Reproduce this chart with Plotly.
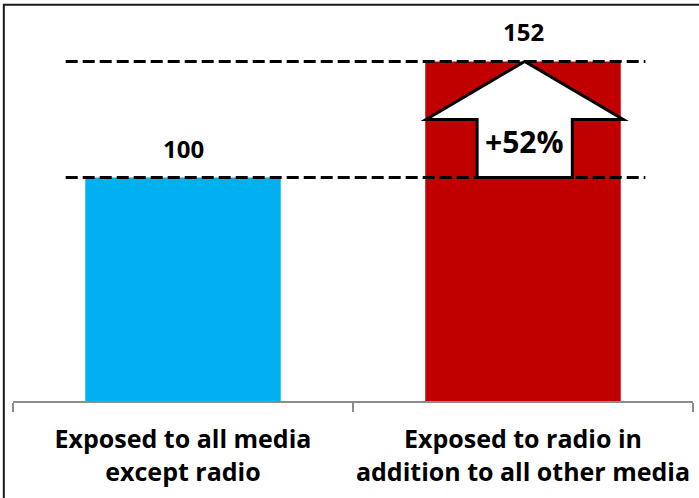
import plotly.graph_objects as go

categories = ["Exposed to all media<br>except radio", "Exposed to radio in<br>addition to all other media"]
values = [100, 152]
bar_colors = ["#00B0F0", "#C00000"]
value_labels = ["100", "152"]
uplift_label = "+52%"

FONT = "Open Sans"

fig = go.Figure()
fig.add_trace(go.Bar(
    x=categories, y=values,
    marker=dict(color=bar_colors, line=dict(width=0)),
    width=0.575, showlegend=False, hoverinfo="skip",
))

# helper: category index -> paper x
def cx(i):
    return (i + 0.5) / len(categories)

shapes = []
# dashed reference lines at both values
for v in values:
    shapes.append(dict(type="line", xref="paper", yref="y",
                       x0=cx(-0.345), x1=cx(1.36), y0=v, y1=v,
                       line=dict(color="black", width=3, dash="12px,5px"),
                       layer="above"))

# up arrow inside the second bar from values[0] to values[1]
lo, hi = values
mid = (lo + hi) / 2
c = 1.005
hw, sw = 0.29, 0.14
pts = [(c, hi), (c + hw, mid), (c + sw, mid), (c + sw, lo), (c - sw, lo), (c - sw, mid), (c - hw, mid)]
path = "M " + " L ".join(f"{cx(px)},{py}" for px, py in pts) + " Z"
shapes.append(dict(type="path", xref="paper", yref="y", path=path,
                   fillcolor="white", line=dict(color="black", width=3), layer="above"))

# outer border
shapes.append(dict(type="rect", xref="paper", yref="paper",
                   x0=-0.0135, x1=1.2, y0=-0.5, y1=1.0135,
                   line=dict(color="#1a1a1a", width=2), fillcolor="rgba(0,0,0,0)"))

annotations = []
for i, (cat, v, lab) in enumerate(zip(categories, values, value_labels)):
    annotations.append(dict(x=cat, y=v, text=f"<b>{lab}</b>", showarrow=False,
                            xanchor="center", yanchor="bottom", yshift=11,
                            font=dict(family=FONT, size=24, color="black")))
annotations.append(dict(x=cx(1.005), xref="paper", y=116, yref="y",
                        xanchor="center", yanchor="middle",
                        text=f"<b>{uplift_label}</b>", showarrow=False,
                        font=dict(family=FONT, size=30, color="black")))

fig.update_layout(
    width=699, height=498,
    margin=dict(l=13, r=6, t=10, b=97, autoexpand=False),
    paper_bgcolor="white", plot_bgcolor="white",
    bargap=0.425,
    shapes=shapes, annotations=annotations,
    xaxis=dict(
        showline=True, linecolor="#8c8c8c", linewidth=2,
        ticks="outside", ticklen=9, tickwidth=2, tickcolor="#8c8c8c",
        tickson="boundaries", showgrid=False, tickangle=0, automargin=False,
        ticklabelstandoff=15,
        tickfont=dict(family=FONT, size=25, color="black"),
        tickprefix="<b>", ticksuffix="</b>",
        range=[-0.5, 1.5],
    ),
    yaxis=dict(visible=False, range=[0, 175], showgrid=False, zeroline=False),
)

fig.write_html("out.html", config={"displayModeBar": False},
               post_script="document.body.style.margin='0';document.body.style.overflow='hidden';")
